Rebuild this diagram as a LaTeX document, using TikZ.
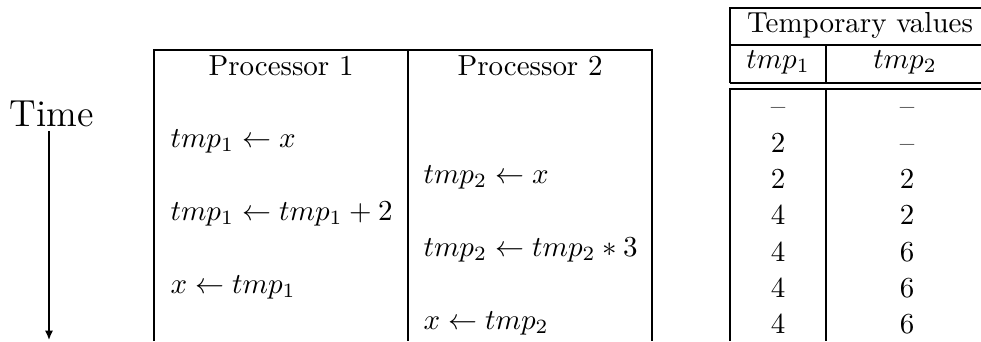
\documentclass[tikz,border=0pt]{standalone}
\usepackage{amsmath,amssymb}
\usepackage{tikz}
\usetikzlibrary{arrows.meta, positioning, calc}

\begin{document}
\begin{tikzpicture}[x=0.345pt, y=-0.345pt, >={Latex[length=3.2pt,width=2.8pt]}]
    \tikzstyle{rule} = [line width=0.7pt]
    \tikzstyle{stmt} = [anchor=base west, inner sep=0pt]
    \tikzstyle{head} = [anchor=base, inner sep=0pt]
    \tikzstyle{val} = [anchor=base, inner sep=0pt]

    \useasboundingbox (0,0) rectangle (981,341);

    % time axis
    \node [anchor=base, inner sep=1.5pt, font=\fontsize{13}{15}\selectfont] (time) at (52,126) {Time};
    \coordinate (tend) at (49,340);
    \draw [->, line width=0.5pt] (time.south -| tend) -- (tend);

    % processor table
    \draw [rule] (154,341) |- (652,50) -- (652,341);
    \draw [rule] (408,50) -- (408,341);
    \node [head] (proc1) at (281,75) {Processor 1};
    \node [head] (proc2) at (530,75) {Processor 2};

    \node [stmt] (s1) at (170,147) {$tmp_1 \leftarrow x$};
    \node [stmt] (s2) at (423,183.5) {$tmp_2 \leftarrow x$};
    \node [stmt] (s3) at (170,220) {$tmp_1 \leftarrow tmp_1 + 2$};
    \node [stmt] (s4) at (423,256.5) {$tmp_2 \leftarrow tmp_2 * 3$};
    \node [stmt] (s5) at (170,293) {$x \leftarrow tmp_1$};
    \node [stmt] (s6) at (423,329.5) {$x \leftarrow tmp_2$};

    % temporary values table
    \draw [rule] (730,83) |- (981,8);
    \draw [rule] (730,45) -- (981,45);
    \draw [rule] (730,83) -- (981,83);
    \draw [rule] (730,341) |- (981,89);
    \draw [rule] (826,45) -- (826,83);
    \draw [rule] (826,89) -- (826,341);
    \node [head] (tmphead) at (860,32) {Temporary values};
    \node [head] (t1head) at (778,68) {$tmp_1$};
    \node [head] (t2head) at (905,68) {$tmp_2$};

    \node [val] (a0) at (778,115.7) {--};
    \node [val] (a1) at (778,152) {2};
    \node [val] (a2) at (778,188.3) {2};
    \node [val] (a3) at (778,224.6) {4};
    \node [val] (a4) at (778,261) {4};
    \node [val] (a5) at (778,297) {4};
    \node [val] (a6) at (778,333) {4};

    \node [val] (b0) at (907,115.7) {--};
    \node [val] (b1) at (907,152) {--};
    \node [val] (b2) at (907,188.3) {2};
    \node [val] (b3) at (907,224.6) {2};
    \node [val] (b4) at (907,261) {6};
    \node [val] (b5) at (907,297) {6};
    \node [val] (b6) at (907,333) {6};
\end{tikzpicture}
\end{document}
